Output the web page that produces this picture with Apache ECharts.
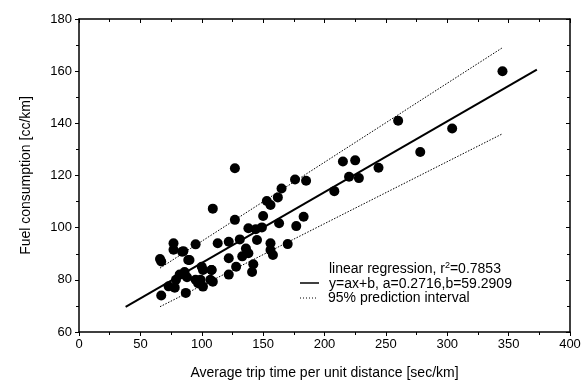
<!DOCTYPE html>
<html>
<head>
<meta charset="utf-8">
<script src="https://cdn.jsdelivr.net/npm/echarts@6/dist/echarts.min.js"></script>
<style>
  html, body { margin: 0; padding: 0; background: #fff; }
  #main { width: 588px; height: 385px; }
</style>
</head>
<body>
<div id="main"></div>
<script>
// 散点数据
var tripTime = [66, 67, 67, 73, 77, 77, 85, 95, 89, 78, 79, 82, 86, 87, 88, 90, 84,
    95, 97, 99, 100, 101, 101, 107, 108, 109, 108, 109, 113,
    122, 122, 122, 128, 127, 127, 131, 133, 136, 138, 141, 142, 138, 144, 145, 149, 150,
    153, 156, 162, 156, 156, 158, 163, 165, 170, 176, 177, 183, 185,
    208, 215, 220, 225, 228, 244, 260, 278, 304, 345];
var fuel = [88, 87, 74, 77.5, 94, 91.5, 91, 93.6, 87.6, 77, 80, 82, 83, 75, 81, 87.6, 90.8,
    80, 78.7, 80, 85, 83.8, 77.4, 80, 83.8, 79.3, 83.8, 107.3, 94,
    94.6, 88.3, 82, 85, 103, 122.8, 95.5, 89, 92, 90.2, 83, 86, 99.8, 99.4, 95.3, 100.1, 104.5,
    110.2, 108.7, 111.6, 94, 91.4, 89.5, 101.7, 115, 93.7, 118.5, 100.6, 104.2, 118,
    114, 125.4, 119.5, 125.8, 119, 123, 141, 129, 138, 160];

// 回归线和95%预测区间端点
var regX = [38, 373];
var regY = [69.6, 160.6];
var bandX = [66, 345];
var upperY = [84.5, 169];
var lowerY = [69.7, 136];

var xTicks = [0, 50, 100, 150, 200, 250, 300, 350, 400];
var yTicks = [60, 80, 100, 120, 140, 160, 180];

function pairs(xs, ys) {
    var out = [];
    for (var i = 0; i < xs.length; i++) out.push([xs[i], ys[i]]);
    return out;
}

var font = 'Liberation Sans, Arial, sans-serif';
var black = '#000';

var myChart = echarts.init(document.getElementById('main'));

var baseX = {
    type: 'value', min: xTicks[0], max: xTicks[xTicks.length - 1], interval: 50,
    axisLine: { onZero: false, lineStyle: { color: black, width: 1.5 } },
    splitLine: { show: false }
};
var baseY = {
    type: 'value', min: yTicks[0], max: yTicks[yTicks.length - 1], interval: 20,
    axisLine: { onZero: false, lineStyle: { color: black, width: 1.5 } },
    splitLine: { show: false }
};

var option = {
    animation: false,
    backgroundColor: '#fff',
    grid: { left: 79, right: 18, top: 19, bottom: 53 },
    xAxis: [
        Object.assign({}, baseX, {
            position: 'bottom',
            name: 'Average trip time per unit distance [sec/km]',
            nameLocation: 'middle', nameGap: 34,
            nameTextStyle: { color: black, fontSize: 14, fontFamily: font },
            axisTick: { length: 4, lineStyle: { color: black } },
            minorTick: { show: true, splitNumber: 2, length: 3, lineStyle: { color: black } },
            axisLabel: { color: black, fontSize: 13, fontFamily: font, margin: 6 }
        }),
        Object.assign({}, baseX, {
            position: 'top',
            axisTick: { inside: true, length: 4, lineStyle: { color: black } },
            minorTick: { show: true, splitNumber: 2, length: 3, lineStyle: { color: black } },
            axisLabel: { show: false }
        })
    ],
    yAxis: [
        Object.assign({}, baseY, {
            position: 'left',
            name: 'Fuel consumption [cc/km]',
            nameLocation: 'middle', nameGap: 46,
            nameTextStyle: { color: black, fontSize: 14, fontFamily: font },
            axisTick: { length: 4, lineStyle: { color: black } },
            minorTick: { show: true, splitNumber: 2, length: 3, lineStyle: { color: black } },
            axisLabel: { color: black, fontSize: 13, fontFamily: font, margin: 7 }
        }),
        Object.assign({}, baseY, {
            position: 'right',
            axisTick: { inside: true, length: 4, lineStyle: { color: black } },
            minorTick: { show: true, splitNumber: 2, length: 3, lineStyle: { color: black } },
            axisLabel: { show: false }
        })
    ],
    graphic: [
        { type: 'line', shape: { x1: 300, y1: 283, x2: 319, y2: 283 },
          style: { stroke: black, lineWidth: 1.5 } },
        { type: 'line', shape: { x1: 300, y1: 298, x2: 316, y2: 298 },
          style: { stroke: black, lineWidth: 1, lineDash: [1, 2] } },
        { type: 'text', left: 329, top: 261,
          style: { text: '{n|linear regression, r}{s|2}{n|=0.7853}', fill: black,
            rich: { n: { fontSize: 14, fontFamily: font, fill: black },
                    s: { fontSize: 9, fontFamily: font, fill: black, padding: [0, 0, 7, 0] } } } },
        { type: 'text', left: 329, top: 277,
          style: { text: 'y=ax+b, a=0.2716,b=59.2909', fill: black, fontSize: 14, fontFamily: font } },
        { type: 'text', left: 328, top: 291,
          style: { text: '95% prediction interval', fill: black, fontSize: 14, fontFamily: font } }
    ],
    series: [
        {
            type: 'scatter', symbol: 'circle', symbolSize: 10,
            itemStyle: { color: black, opacity: 1 },
            data: pairs(tripTime, fuel), z: 3
        },
        {
            type: 'line', showSymbol: false, symbol: 'none',
            lineStyle: { color: black, width: 2 },
            data: pairs(regX, regY), z: 2
        },
        {
            type: 'line', showSymbol: false, symbol: 'none',
            lineStyle: { color: black, width: 1, type: [1.5, 1.5] },
            data: pairs(bandX, upperY), z: 2
        },
        {
            type: 'line', showSymbol: false, symbol: 'none',
            lineStyle: { color: black, width: 1, type: [1.5, 1.5] },
            data: pairs(bandX, lowerY), z: 2
        }
    ]
};

myChart.setOption(option);
</script>
</body>
</html>
